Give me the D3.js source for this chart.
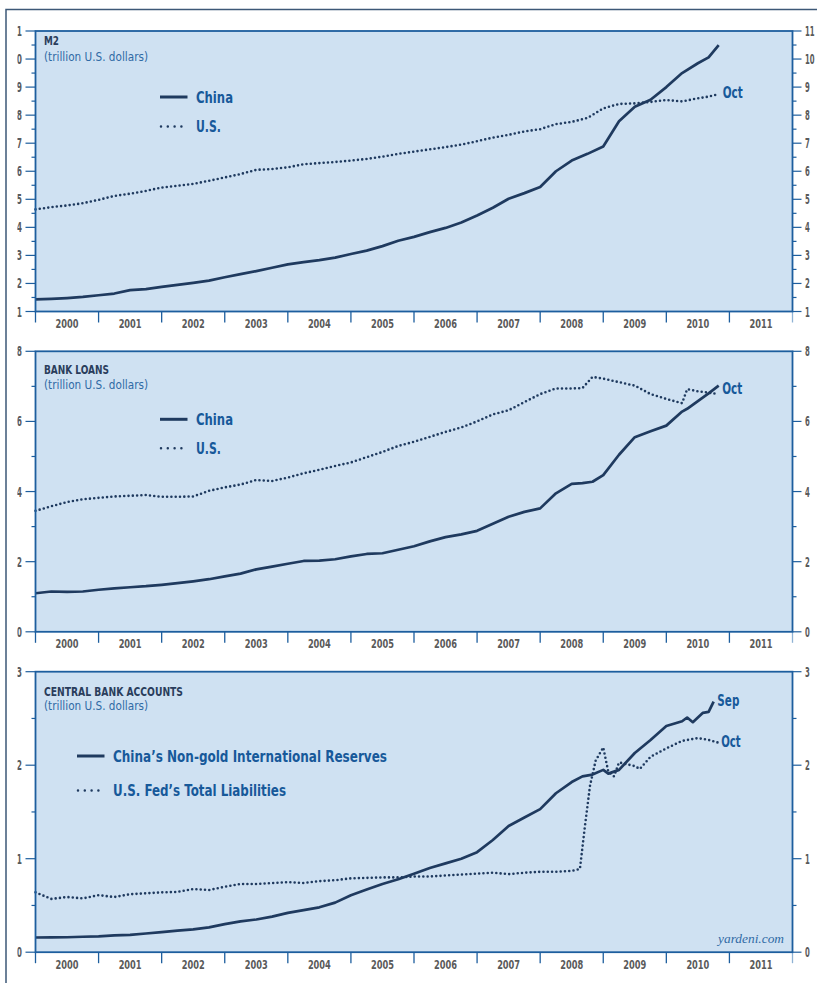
<!DOCTYPE html>
<html>
<head>
<meta charset="utf-8">
<script src="https://cdnjs.cloudflare.com/ajax/libs/d3/7.8.5/d3.min.js"></script>
<style>
body { margin: 0; background: #fff; }
svg { display: block; }
text { font-family: "Liberation Sans Narrow", "DejaVu Sans Condensed", "Roboto Condensed", "Liberation Sans", sans-serif; font-weight: bold; }
</style>
</head>
<body>
<svg width="817" height="983"></svg>
<script>
// ---- data (trillion U.S. dollars), dates as decimal years (month end) ----
var yearLabels = ["2000","2001","2002","2003","2004","2005","2006","2007","2008","2009","2010","2011"];

var m2Dates = [2000,2000.25,2000.5,2000.75,2001,2001.25,2001.5,2001.75,2002,2002.25,2002.5,2002.75,
  2003,2003.25,2003.5,2003.75,2004,2004.25,2004.5,2004.75,2005,2005.25,2005.5,2005.75,
  2006,2006.25,2006.5,2006.75,2007,2007.25,2007.5,2007.75,2008,2008.25,2008.5,2008.75,
  2009,2009.25,2009.5,2009.75,2010,2010.25,2010.5,2010.67,2010.83];
var chinaM2 = [1.43,1.45,1.48,1.52,1.58,1.64,1.76,1.80,1.88,1.95,2.02,2.10,
  2.22,2.33,2.44,2.56,2.68,2.76,2.83,2.92,3.05,3.17,3.33,3.52,
  3.66,3.83,3.98,4.17,4.42,4.70,5.02,5.22,5.44,6.00,6.38,6.62,
  6.88,7.78,8.30,8.55,9.00,9.50,9.85,10.06,10.50];
var usM2 = [4.64,4.72,4.78,4.86,4.98,5.12,5.20,5.30,5.42,5.48,5.55,5.66,
  5.78,5.90,6.05,6.08,6.14,6.25,6.29,6.33,6.38,6.44,6.52,6.62,
  6.70,6.78,6.86,6.95,7.07,7.20,7.30,7.42,7.50,7.68,7.76,7.90,
  8.24,8.40,8.42,8.47,8.54,8.49,8.60,8.66,8.75];

var loanDates = [2000,2000.25,2000.5,2000.75,2001,2001.25,2001.5,2001.75,2002,2002.25,2002.5,2002.75,
  2003,2003.25,2003.5,2003.75,2004,2004.25,2004.5,2004.75,2005,2005.25,2005.5,2005.75,
  2006,2006.25,2006.5,2006.75,2007,2007.25,2007.5,2007.75,2008,2008.25,2008.5,2008.67,2008.83,
  2009,2009.25,2009.5,2009.75,2010,2010.25,2010.33,2010.5,2010.67,2010.83];
var chinaLoans = [1.10,1.15,1.14,1.15,1.20,1.24,1.27,1.30,1.34,1.39,1.44,1.50,
  1.58,1.66,1.78,1.86,1.94,2.02,2.03,2.07,2.15,2.22,2.24,2.34,
  2.44,2.58,2.70,2.78,2.88,3.08,3.28,3.42,3.52,3.95,4.22,4.24,4.28,
  4.47,5.05,5.55,5.72,5.88,6.28,6.36,6.58,6.80,7.02];
var usLoans = [3.45,3.58,3.70,3.78,3.82,3.86,3.88,3.90,3.85,3.85,3.86,4.02,
  4.12,4.20,4.33,4.30,4.40,4.52,4.62,4.73,4.83,4.98,5.13,5.30,
  5.42,5.56,5.70,5.83,6.00,6.20,6.32,6.55,6.78,6.94,6.94,6.95,7.27,
  7.22,7.12,7.02,6.78,6.64,6.52,6.92,6.86,6.82,6.78];

var reserveDates = [2000,2000.25,2000.5,2000.75,2001,2001.25,2001.5,2001.75,2002,2002.25,2002.5,2002.75,
  2003,2003.25,2003.5,2003.75,2004,2004.25,2004.5,2004.75,2005,2005.25,2005.5,2005.75,
  2006,2006.25,2006.5,2006.75,2007,2007.25,2007.5,2007.75,2008,2008.25,2008.5,2008.67,2008.83,
  2009,2009.08,2009.25,2009.5,2009.75,2010,2010.25,2010.33,2010.42,2010.58,2010.67,2010.75];
var chinaReserves = [0.157,0.158,0.16,0.165,0.17,0.18,0.185,0.20,0.215,0.23,0.245,0.265,
  0.30,0.33,0.35,0.38,0.42,0.45,0.48,0.53,0.61,0.67,0.73,0.78,
  0.84,0.90,0.95,1.00,1.07,1.20,1.35,1.44,1.53,1.70,1.82,1.88,1.90,
  1.95,1.91,1.95,2.13,2.27,2.42,2.47,2.51,2.46,2.56,2.57,2.68];

var fedDates = [2000,2000.25,2000.5,2000.75,2001,2001.25,2001.5,2001.75,2002,2002.25,2002.5,2002.75,
  2003,2003.25,2003.5,2003.75,2004,2004.25,2004.5,2004.75,2005,2005.25,2005.5,2005.75,
  2006,2006.25,2006.5,2006.75,2007,2007.25,2007.5,2007.75,2008,2008.25,2008.5,
  2008.63,2008.71,2008.79,2008.88,2009,2009.08,2009.17,2009.25,2009.5,2009.58,2009.75,
  2010,2010.25,2010.5,2010.67,2010.83];
var fedLiabilities = [0.64,0.57,0.59,0.575,0.61,0.59,0.62,0.63,0.64,0.645,0.675,0.665,
  0.70,0.73,0.73,0.74,0.75,0.74,0.76,0.77,0.79,0.795,0.80,0.80,
  0.81,0.81,0.82,0.83,0.84,0.85,0.835,0.85,0.86,0.86,0.87,
  0.89,1.35,1.78,2.05,2.19,1.93,1.88,2.03,1.99,1.96,2.09,
  2.18,2.26,2.29,2.27,2.24];

// ---- styles ----
var bgColor = "#cfe1f2",
    axisBlue = "#1d5e9e",
    lineNavy = "#1f3a5f",
    legendBlue = "#17599a",
    labelGray = "#5a5a5a";

var svg = d3.select("svg");

var x = d3.scaleLinear().domain([2000, 2012]).range([35.5, 792.5]);

// squeeze text to the width it has in the original
function fit(sel, w) {
  sel.attr("textLength", w).attr("lengthAdjust", "spacingAndGlyphs");
  return sel;
}

// the left labels of the top panel lose their first digit in the original
svg.append("defs").append("clipPath").attr("id", "leftClip")
  .append("rect").attr("x", 17.3).attr("y", 0).attr("width", 20).attr("height", 983);

// outer frame
svg.append("rect")
  .attr("x", 6).attr("y", 9.5).attr("width", 900).attr("height", 1100)
  .attr("fill", "none").attr("stroke", "#3d5877").attr("stroke-width", 1.5);

var panels = [
  { top: 31, domain: [1, 11], major: d3.range(1, 12), minor: d3.range(1.5, 11, 1),
    title: "M2", titleW: 15, titleY: 14, subY: 30,
    series: [ { dates: m2Dates, values: chinaM2, dotted: false },
              { dates: m2Dates, values: usM2, dotted: true } ],
    legend: { x: 160, y: 97, gap: 29, items: [ {name: "China", w: 37}, {name: "U.S.", w: 25} ] },
    ends: [ { s: 1, text: "Oct", dx: 4, dy: 4, w: 20 } ] },
  { top: 351.3, domain: [0, 8], major: [0, 2, 4, 6, 8], minor: [1, 3, 5, 7],
    title: "BANK LOANS", titleW: 65, titleY: 23, subY: 38,
    series: [ { dates: loanDates, values: chinaLoans, dotted: false },
              { dates: loanDates, values: usLoans, dotted: true } ],
    legend: { x: 160, y: 419.3, gap: 28.4, items: [ {name: "China", w: 37}, {name: "U.S.", w: 25} ] },
    ends: [ { s: 0, text: "Oct", dx: 3.5, dy: 8.5, w: 20 } ] },
  { top: 671.7, domain: [0, 3], major: [0, 1, 2, 3], minor: [0.5, 1.5, 2.5],
    title: "CENTRAL BANK ACCOUNTS", titleW: 139, titleY: 24, subY: 38,
    series: [ { dates: reserveDates, values: chinaReserves, dotted: false },
              { dates: fedDates, values: fedLiabilities, dotted: true } ],
    legend: { x: 77, y: 756, gap: 34, items: [ {name: "China\u2019s Non-gold International Reserves", w: 274},
                                              {name: "U.S. Fed\u2019s Total Liabilities", w: 173} ] },
    ends: [ { s: 0, text: "Sep", dx: 3.7, dy: 4.3, w: 22 }, { s: 1, text: "Oct", dx: 2.5, dy: 4.5, w: 19.5 } ] }
];

var panelH = 280.5;

panels.forEach(function(p) {
  var bottom = p.top + panelH;
  var y = d3.scaleLinear().domain(p.domain).range([bottom, p.top]);
  var g = svg.append("g");

  g.append("rect")
    .attr("x", x(2000)).attr("y", p.top)
    .attr("width", x(2012) - x(2000)).attr("height", panelH)
    .attr("fill", bgColor);

  // left / right ticks
  [[x(2000), -1], [x(2012), 1]].forEach(function(side) {
    var sx = side[0], dir = side[1];
    g.selectAll(null).data(p.major).enter().append("line")
      .attr("x1", sx).attr("x2", sx + dir * (dir < 0 ? 10 : 9))
      .attr("y1", function(d) { return y(d); }).attr("y2", function(d) { return y(d); })
      .attr("stroke", axisBlue).attr("stroke-width", 1.2);
    g.selectAll(null).data(p.minor).enter().append("line")
      .attr("x1", sx).attr("x2", sx + dir * 4)
      .attr("y1", function(d) { return y(d); }).attr("y2", function(d) { return y(d); })
      .attr("stroke", axisBlue).attr("stroke-width", 1.2);
  });

  g.append("g").attr("clip-path", "url(#leftClip)")
    .selectAll("text").data(p.major).enter().append("text")
    .attr("x", 22).attr("y", function(d) { return y(d); }).attr("dy", "0.36em")
    .attr("text-anchor", "end").attr("font-size", 14).attr("fill", labelGray)
    .text(function(d) { return d; })
    .each(function(d) { fit(d3.select(this), String(d).length * 5.2); });

  g.selectAll(null).data(p.major).enter().append("text")
    .attr("x", 805).attr("y", function(d) { return y(d); }).attr("dy", "0.36em")
    .attr("font-size", 14).attr("fill", labelGray)
    .text(function(d) { return d; })
    .each(function(d) { fit(d3.select(this), String(d).length * 4.8); });

  // year ticks and labels
  g.selectAll(null).data(d3.range(2000, 2013)).enter().append("line")
    .attr("x1", function(d) { return x(d); }).attr("x2", function(d) { return x(d); })
    .attr("y1", bottom).attr("y2", bottom + 11)
    .attr("stroke", function(d) { return d === 2012 ? "#8fb2d4" : axisBlue; })
    .attr("stroke-width", 1.3);

  g.selectAll(null).data(yearLabels).enter().append("text")
    .attr("x", function(d) { return x(+d + 0.5); }).attr("y", bottom + 16.3)
    .attr("text-anchor", "middle").attr("font-size", 12.5).attr("fill", labelGray)
    .text(function(d) { return d; })
    .each(function() { fit(d3.select(this), 23); });

  // titles
  fit(g.append("text").attr("x", 44).attr("y", p.top + p.titleY)
    .attr("font-size", 12.5).attr("fill", "#2a3d5c").text(p.title), p.titleW);
  fit(g.append("text").attr("x", 44).attr("y", p.top + p.subY)
    .attr("font-size", 13).style("font-weight", "normal").attr("fill", "#2f6aa5")
    .text("(trillion U.S. dollars)"), 104);

  // series
  var line = d3.line()
    .x(function(d) { return x(d[0]); })
    .y(function(d) { return y(d[1]); });

  p.series.forEach(function(s) {
    var pts = d3.zip(s.dates, s.values);
    s.last = pts[pts.length - 1];
    var path = g.append("path").datum(pts)
      .attr("d", line).attr("fill", "none").attr("stroke", lineNavy)
      .attr("stroke-linejoin", "round");
    if (s.dotted) {
      path.attr("stroke-width", 2.6).attr("stroke-dasharray", "0 4.3").attr("stroke-linecap", "round");
    } else {
      path.attr("stroke-width", 2.7);
    }
  });

  // legend
  p.legend.items.forEach(function(it, i) {
    var ly = p.legend.y + i * p.legend.gap;
    if (i === 0) {
      g.append("line").attr("x1", p.legend.x).attr("x2", p.legend.x + 27.5)
        .attr("y1", ly).attr("y2", ly)
        .attr("stroke", lineNavy).attr("stroke-width", 3);
    } else {
      g.append("line").attr("x1", p.legend.x + 1).attr("x2", p.legend.x + 22)
        .attr("y1", ly + 0.5).attr("y2", ly + 0.5)
        .attr("stroke", lineNavy).attr("stroke-width", 2.5)
        .attr("stroke-dasharray", "0 6.8").attr("stroke-linecap", "round");
    }
    fit(g.append("text").attr("x", p.legend.x + 36).attr("y", ly + 5.8)
      .attr("font-size", 16.5).attr("fill", legendBlue).text(it.name), it.w);
  });

  // end-of-data labels
  p.ends.forEach(function(e) {
    var last = p.series[e.s].last;
    fit(g.append("text").attr("x", x(last[0]) + e.dx).attr("y", y(last[1]) + e.dy)
      .attr("font-size", 15).attr("fill", legendBlue).text(e.text), e.w);
  });

  // border
  g.append("rect")
    .attr("x", x(2000)).attr("y", p.top)
    .attr("width", x(2012) - x(2000)).attr("height", panelH)
    .attr("fill", "none").attr("stroke", axisBlue).attr("stroke-width", 1.8);
});

fit(svg.append("text")
  .attr("x", 784).attr("y", 942.5).attr("text-anchor", "end")
  .style("font-family", "'Liberation Serif', 'DejaVu Serif', serif")
  .style("font-style", "italic").style("font-weight", "normal")
  .attr("font-size", 13.5).attr("fill", "#2f6aa5")
  .text("yardeni.com"), 66);
</script>
</body>
</html>
